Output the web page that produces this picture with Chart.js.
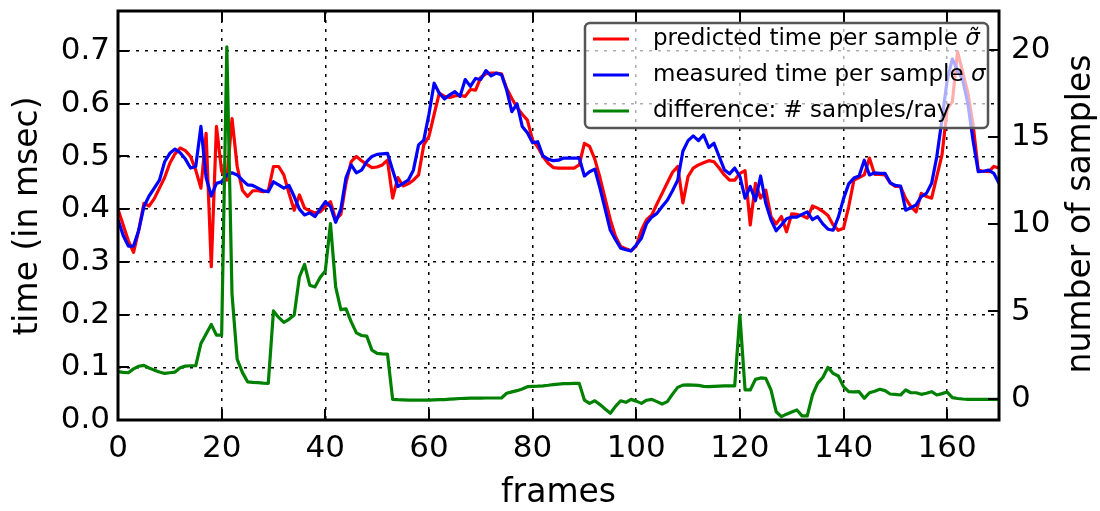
<!DOCTYPE html>
<html>
<head>
<meta charset="utf-8">
<script src="https://cdn.jsdelivr.net/npm/chart.js@4/dist/chart.umd.min.js"></script>
<style>
  html, body { margin: 0; padding: 0; background: #ffffff; }
  canvas { display: block; }
</style>
</head>
<body>
<canvas id="c" width="1100" height="511"></canvas>
<script>
// predicted time per sample (msec), one value per frame
const predicted = [
  0.400, 0.370, 0.340, 0.318, 0.360, 0.411, 0.406, 0.420, 0.440, 0.460,
  0.487, 0.505, 0.516, 0.511, 0.500, 0.474, 0.440, 0.544, 0.291, 0.557,
  0.472, 0.455, 0.572, 0.481, 0.436, 0.424, 0.435, 0.435, 0.433, 0.435,
  0.481, 0.481, 0.465, 0.430, 0.398, 0.427, 0.402, 0.397, 0.393, 0.395,
  0.405, 0.414, 0.380, 0.390, 0.450, 0.490, 0.500, 0.492, 0.485, 0.479,
  0.480, 0.484, 0.493, 0.421, 0.460, 0.444, 0.448, 0.455, 0.465, 0.522,
  0.538, 0.580, 0.620, 0.614, 0.612, 0.615, 0.616, 0.614, 0.627, 0.626,
  0.650, 0.657, 0.658, 0.658, 0.657, 0.629, 0.610, 0.593, 0.580, 0.569,
  0.531, 0.518, 0.500, 0.487, 0.479, 0.478, 0.478, 0.478, 0.478, 0.484,
  0.525, 0.519, 0.495, 0.460, 0.420, 0.380, 0.348, 0.329, 0.325, 0.321,
  0.330, 0.360, 0.380, 0.389, 0.410, 0.430, 0.450, 0.470, 0.481, 0.412,
  0.462, 0.478, 0.484, 0.488, 0.492, 0.490, 0.478, 0.465, 0.455, 0.455,
  0.468, 0.473, 0.370, 0.449, 0.421, 0.436, 0.386, 0.372, 0.386, 0.357,
  0.391, 0.390, 0.388, 0.383, 0.406, 0.402, 0.396, 0.388, 0.370, 0.360,
  0.364, 0.405, 0.455, 0.460, 0.465, 0.497, 0.466, 0.466, 0.465, 0.450,
  0.443, 0.443, 0.420, 0.405, 0.395, 0.430, 0.424, 0.421, 0.462, 0.503,
  0.590, 0.604, 0.699, 0.660, 0.620, 0.560, 0.474, 0.472, 0.471, 0.481,
  0.478
];

// measured time per sample (msec), one value per frame
const measured = [
  0.380, 0.350, 0.330, 0.330, 0.360, 0.405, 0.425, 0.440, 0.455, 0.490,
  0.506, 0.514, 0.507, 0.495, 0.478, 0.481, 0.557, 0.460, 0.425, 0.449,
  0.452, 0.465, 0.469, 0.465, 0.455, 0.446, 0.445, 0.440, 0.435, 0.433,
  0.452, 0.446, 0.440, 0.445, 0.424, 0.400, 0.389, 0.393, 0.386, 0.400,
  0.414, 0.405, 0.375, 0.400, 0.460, 0.484, 0.469, 0.474, 0.490, 0.500,
  0.504, 0.505, 0.506, 0.474, 0.443, 0.449, 0.455, 0.474, 0.522, 0.531,
  0.580, 0.639, 0.620, 0.609, 0.617, 0.623, 0.614, 0.646, 0.633, 0.648,
  0.646, 0.663, 0.653, 0.658, 0.655, 0.626, 0.585, 0.600, 0.557, 0.545,
  0.526, 0.528, 0.501, 0.495, 0.492, 0.493, 0.497, 0.497, 0.497, 0.497,
  0.463, 0.471, 0.476, 0.440, 0.400, 0.360, 0.342, 0.326, 0.323, 0.321,
  0.332, 0.345, 0.373, 0.385, 0.392, 0.405, 0.417, 0.435, 0.455, 0.510,
  0.530, 0.539, 0.530, 0.541, 0.517, 0.525, 0.500, 0.475, 0.467, 0.478,
  0.462, 0.421, 0.443, 0.416, 0.463, 0.411, 0.380, 0.359, 0.370, 0.382,
  0.385, 0.385, 0.390, 0.395, 0.380, 0.386, 0.372, 0.362, 0.360, 0.385,
  0.420, 0.448, 0.459, 0.463, 0.493, 0.465, 0.469, 0.468, 0.468, 0.450,
  0.445, 0.444, 0.398, 0.403, 0.408, 0.424, 0.430, 0.449, 0.500, 0.570,
  0.645, 0.685, 0.664, 0.645, 0.600, 0.530, 0.471, 0.472, 0.474, 0.468,
  0.449
];

// difference in number of samples per ray, one value per frame
const difference = [
  1.54, 1.50, 1.48, 1.70, 1.85, 1.90, 1.75, 1.63, 1.52, 1.44,
  1.48, 1.52, 1.77, 1.86, 1.88, 1.88, 3.16, 3.70, 4.25, 3.64,
  3.64, 20.2, 6.00, 2.25, 1.50, 0.96, 0.93, 0.91, 0.88, 0.87,
  5.03, 4.66, 4.37, 4.55, 4.79, 6.98, 7.71, 6.51, 6.41, 6.95,
  7.33, 10.05, 6.41, 5.11, 5.15, 4.40, 3.77, 3.62, 3.58, 2.78,
  2.59, 2.56, 2.55, -0.05, -0.07, -0.08, -0.09, -0.09, -0.09, -0.09,
  -0.09, -0.08, -0.07, -0.06, -0.04, -0.02, 0.00, 0.01, 0.02, 0.02,
  0.02, 0.03, 0.03, 0.03, 0.03, 0.30, 0.38, 0.45, 0.55, 0.68,
  0.70, 0.71, 0.73, 0.76, 0.80, 0.83, 0.85, 0.86, 0.87, 0.87,
  -0.09, -0.28, -0.13, -0.35, -0.60, -0.85, -0.45, -0.13, -0.22, -0.05,
  -0.15, -0.28, -0.10, -0.05, -0.18, -0.32, -0.18, 0.25, 0.64, 0.77,
  0.78, 0.77, 0.75, 0.70, 0.68, 0.70, 0.71, 0.72, 0.73, 0.73,
  4.79, 0.49, 0.49, 1.10, 1.18, 1.16, 0.49, -0.76, -1.04, -0.90,
  -0.78, -0.66, -1.00, -1.00, 0.20, 0.87, 1.21, 1.79, 1.44, 1.29,
  0.68, 0.39, 0.38, 0.39, 0.01, 0.33, 0.42, 0.53, 0.45, 0.26,
  0.24, 0.20, 0.49, 0.33, 0.33, 0.24, 0.30, 0.39, 0.20, 0.28,
  0.37, 0.05, 0.00, -0.03, -0.05, -0.05, -0.05, -0.05, -0.05, -0.05,
  -0.05
];

// frame index for each value
const frames = predicted.map((_, i) => i);

// tick labels
const xTicks = [0, 20, 40, 60, 80, 100, 120, 140, 160];
const timeTicks = [0.0, 0.1, 0.2, 0.3, 0.4, 0.5, 0.6, 0.7];
const sampleTicks = [0, 5, 10, 15, 20];

// legend text and the symbol that follows it
const seriesNames = ['predicted time per sample', 'measured time per sample', 'difference: # samples/ray'];
const seriesSymbols = ['\u03C3\u0303', '\u03C3', ''];
const seriesColors = ['#ff0000', '#0000ff', '#008000'];

// axis titles
const xTitle = 'frames';
const leftTitle = 'time (in msec)';
const rightTitle = 'number of samples';

const FONT = '"DejaVu Sans", "Liberation Sans", sans-serif';

const toPoints = (vals) => frames.map((f, i) => ({ x: f, y: vals[i] }));

function drawLine(ctx, x1, y1, x2, y2) {
  ctx.beginPath();
  ctx.moveTo(x1, y1);
  ctx.lineTo(x2, y2);
  ctx.stroke();
}

function roundRect(ctx, x, y, w, h, r) {
  ctx.beginPath();
  ctx.moveTo(x + r, y);
  ctx.lineTo(x + w - r, y);
  ctx.arcTo(x + w, y, x + w, y + r, r);
  ctx.lineTo(x + w, y + h - r);
  ctx.arcTo(x + w, y + h, x + w - r, y + h, r);
  ctx.lineTo(x + r, y + h);
  ctx.arcTo(x, y + h, x, y + h - r, r);
  ctx.lineTo(x, y + r);
  ctx.arcTo(x, y, x + r, y, r);
  ctx.closePath();
}

// axes frame, inward ticks and the in-plot legend, painted over the lines
const framePlugin = {
  id: 'axesFrame',
  afterDatasetsDraw(chart) {
    const { ctx, chartArea: a, scales } = chart;
    ctx.save();
    ctx.strokeStyle = '#000';
    ctx.lineCap = 'butt';

    // inward tick marks
    ctx.lineWidth = 2;
    const tl = 11;
    xTicks.forEach(v => {
      const px = Math.round(scales.x.getPixelForValue(v));
      drawLine(ctx, px, a.bottom, px, a.bottom - tl);
      drawLine(ctx, px, a.top, px, a.top + tl);
    });
    timeTicks.forEach(v => {
      const py = Math.round(scales.y.getPixelForValue(v));
      drawLine(ctx, a.left, py, a.left + tl, py);
    });
    sampleTicks.forEach(v => {
      const py = Math.round(scales.y2.getPixelForValue(v));
      drawLine(ctx, a.right, py, a.right - tl, py);
    });

    // spines
    ctx.lineWidth = 3;
    ctx.strokeRect(a.left, a.top, a.right - a.left, a.bottom - a.top);

    // legend box
    const lw = 403, lh = 105;
    const lx = a.right - 11 - lw;
    const ly = a.top + 12;
    roundRect(ctx, lx, ly, lw, lh, 5);
    ctx.fillStyle = 'rgba(255,255,255,0.68)';
    ctx.fill();
    ctx.lineWidth = 2.5;
    ctx.strokeStyle = '#555555';
    ctx.stroke();

    const rowH = 36;
    const font = '23px ' + FONT;
    const fontIt = 'italic 23px ' + FONT;
    seriesNames.forEach((name, i) => {
      const cy = ly + 16 + i * rowH;
      ctx.strokeStyle = seriesColors[i];
      ctx.lineWidth = 3.2;
      drawLine(ctx, lx + 8, cy, lx + 44, cy);
      ctx.fillStyle = '#000';
      ctx.textBaseline = 'middle';
      ctx.textAlign = 'left';
      ctx.font = font;
      const tx = lx + 68;
      ctx.fillText(name, tx, cy);
      if (seriesSymbols[i]) {
        const w = ctx.measureText(name + ' ').width;
        ctx.font = fontIt;
        ctx.fillText(seriesSymbols[i], tx + w, cy);
      }
    });
    ctx.restore();
  },
  afterDraw(chart) {
    const { ctx, chartArea: a } = chart;
    ctx.save();
    ctx.fillStyle = '#000';
    ctx.font = '33px ' + FONT;
    ctx.textAlign = 'center';
    ctx.textBaseline = 'alphabetic';
    ctx.fillText(xTitle, (a.left + a.right) / 2, 502);

    ctx.translate(37, 216);
    ctx.rotate(-Math.PI / 2);
    ctx.fillText(leftTitle, 0, 0);
    ctx.restore();

    ctx.save();
    ctx.fillStyle = '#000';
    ctx.font = '33px ' + FONT;
    ctx.textAlign = 'center';
    ctx.textBaseline = 'alphabetic';
    ctx.translate(1090, 214);
    ctx.rotate(-Math.PI / 2);
    ctx.fillText(rightTitle, 0, 0);
    ctx.restore();
  }
};

const lineStyle = {
  borderWidth: 3.2,
  pointRadius: 0,
  tension: 0,
  fill: false,
  borderJoinStyle: 'round'
};

const tickFont = { family: FONT, size: 31 };
const dotted = [3, 6];

// fixed axis box sizes; label overhang is not reserved so the plot fills the frame
const fixVertical = (w) => (s) => { s.width = w; s.paddingTop = 0; s.paddingBottom = 0; };
const fixHorizontal = (h) => (s) => { s.height = h; s.paddingLeft = 0; s.paddingRight = 0; };

new Chart(document.getElementById('c'), {
  type: 'line',
  data: {
    datasets: [
      { ...lineStyle, label: seriesNames[2], data: toPoints(difference), yAxisID: 'y2', borderColor: seriesColors[2], order: 0 },
      { ...lineStyle, label: seriesNames[1], data: toPoints(measured), yAxisID: 'y', borderColor: seriesColors[1], order: 1 },
      { ...lineStyle, label: seriesNames[0], data: toPoints(predicted), yAxisID: 'y', borderColor: seriesColors[0], order: 2 }
    ]
  },
  options: {
    responsive: false,
    animation: false,
    devicePixelRatio: 1,
    events: [],
    layout: { autoPadding: false, padding: { top: 11, left: 0, right: 0, bottom: 0 } },
    plugins: { legend: { display: false }, tooltip: { enabled: false } },
    scales: {
      x: {
        type: 'linear',
        min: 0,
        max: 170,
        afterBuildTicks: s => { s.ticks = xTicks.map(v => ({ value: v })); },
        afterFit: fixHorizontal(91),
        ticks: { font: tickFont, color: '#000', padding: 10, maxRotation: 0, autoSkip: false, callback: v => String(v) },
        grid: { color: '#000', lineWidth: 1.5, drawTicks: false },
        border: { display: false, dash: dotted }
      },
      y: {
        position: 'left',
        min: 0,
        max: 0.776,
        afterBuildTicks: s => { s.ticks = timeTicks.map(v => ({ value: v })); },
        afterFit: fixVertical(118),
        ticks: { font: tickFont, color: '#000', padding: 8, callback: v => Number(v).toFixed(1) },
        grid: { color: '#000', lineWidth: 1.5, drawTicks: false },
        border: { display: false, dash: dotted }
      },
      y2: {
        position: 'right',
        min: -1.235,
        max: 22.26,
        afterBuildTicks: s => { s.ticks = sampleTicks.map(v => ({ value: v })); },
        afterFit: fixVertical(101),
        ticks: { font: tickFont, color: '#000', padding: 12, callback: v => String(v) },
        grid: { display: false, drawTicks: false },
        border: { display: false }
      }
    }
  },
  plugins: [framePlugin]
});
</script>
</body>
</html>
